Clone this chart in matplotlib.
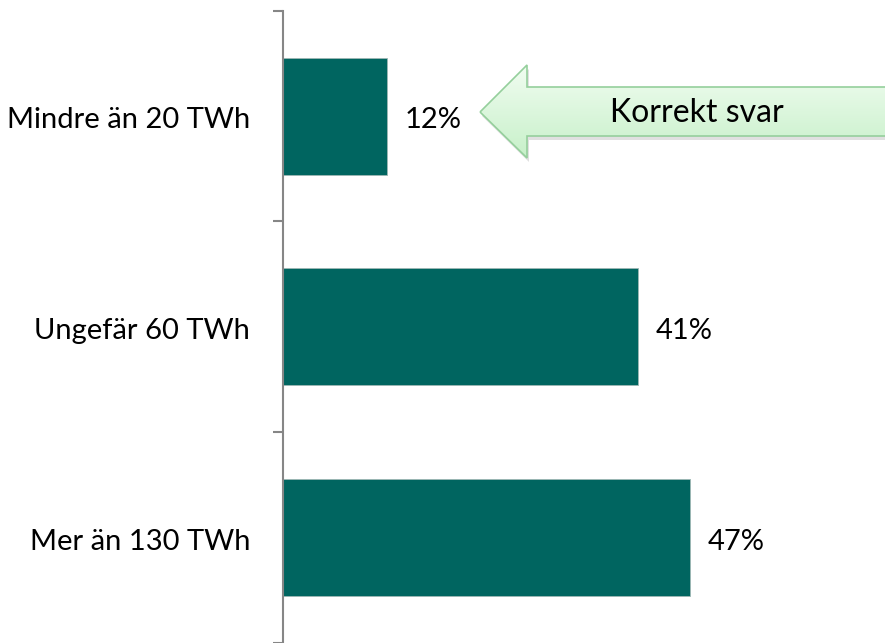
import numpy as np
import matplotlib.pyplot as plt
from matplotlib.patches import Polygon
from matplotlib.colors import LinearSegmentedColormap

# Data ################
categories = ['Mindre än 20 TWh', 'Ungefär 60 TWh', 'Mer än 130 TWh']
values = [12, 41, 47]
answer = 'Korrekt svar'
#######################

plt.rcParams['font.family'] = ['Lato', 'DejaVu Sans']

W, H = 885, 643
fig = plt.figure(figsize=(W / 100, H / 100), dpi=100)

x0 = 283
px_per_pct = 8.66
ax = fig.add_axes([x0 / W, 0, (W - x0) / W, (H - 10.7) / H])
ax.set_xlim(0, (W - x0) / px_per_pct)
ax.set_ylim(2.5, -0.5)

y = np.arange(len(categories))
ax.barh(y, values, height=0.555, color='#006560', edgecolor='#9fb8b4', linewidth=0.6)

for yi, v in zip(y, values):
    ax.text(v + 18 / px_per_pct, yi + 0.02, f'{v}%', va='center', ha='left', fontsize=21)
    ax.text(-33 / px_per_pct, yi + 0.02, categories[yi], va='center', ha='right', fontsize=21,
            clip_on=False)

for s in ['top', 'right', 'bottom']:
    ax.spines[s].set_visible(False)
ax.spines['left'].set_color('#868686')
ax.spines['left'].set_linewidth(1.5)
ax.set_xticks([])
ax.set_yticks([-0.5, 0.5, 1.5, 2.5])
ax.set_yticklabels([])
ax.tick_params(axis='y', length=7.5, width=1.5, color='#868686')

# Callout arrow (pixel coords inside its own axes) #############
ca = fig.add_axes([0, 0, 1, 1], zorder=2)
ca.set_axis_off()
ca.set_xlim(0, W)
ca.set_ylim(H, 0)
ca.patch.set_visible(False)

pts = [(480, 112), (527, 65), (527, 87), (900, 87), (900, 136), (527, 136), (527, 158)]
shadow = Polygon([(px + 2, py + 4) for px, py in pts], closed=True,
                 facecolor='#000000', alpha=0.12, edgecolor='none')
ca.add_patch(shadow)
cmap = LinearSegmentedColormap.from_list('g', ['#f2fdf2', '#c6f0c8'])
grad = np.linspace(0, 1, 256).reshape(-1, 1)
im = ca.imshow(grad, cmap=cmap, aspect='auto', extent=[478, 900, 160, 63],
               origin='upper', zorder=2)
clip = Polygon(pts, closed=True, facecolor='none', edgecolor='none')
ca.add_patch(clip)
im.set_clip_path(clip)
ca.add_patch(Polygon(pts, closed=True, facecolor='none', edgecolor='#95cf9c',
                     linewidth=1.2, zorder=3))
ca.set_xlim(0, W)
ca.set_ylim(H, 0)
ca.text(697, 113, answer, ha='center', va='center', fontsize=23, zorder=4)

fig.savefig('out.png', dpi=100)
